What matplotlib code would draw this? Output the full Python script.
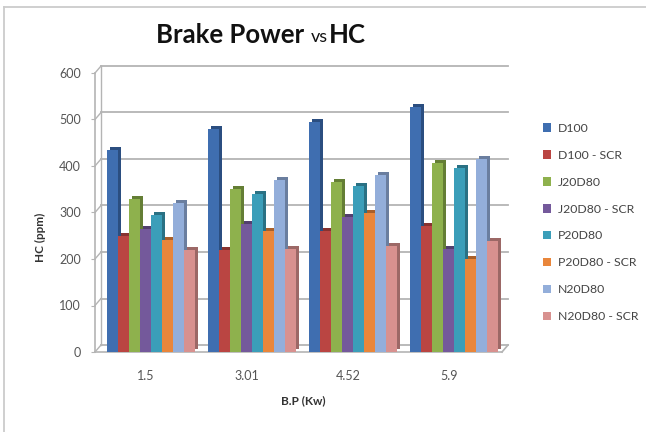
import matplotlib
matplotlib.use("Agg")
import matplotlib.pyplot as plt
import matplotlib.transforms as mtransforms
from matplotlib.patches import Patch
import numpy as np

plt.rcParams['font.family'] = ['Lato', 'DejaVu Sans']

categories = ["1.5", "3.01", "4.52", "5.9"]
series_names = ["D100", "D100 - SCR", "J20D80", "J20D80 - SCR",
                "P20D80", "P20D80 - SCR", "N20D80", "N20D80 - SCR"]
d100 = [435, 480, 495, 527]
d100_scr = [250, 220, 260, 270]
j20d80 = [330, 350, 366, 407]
j20d80_scr = [265, 276, 290, 221]
p20d80 = [295, 340, 356, 395]
p20d80_scr = [240, 260, 299, 199]
n20d80 = [320, 370, 381, 414]
n20d80_scr = [220, 221, 228, 239]
yticks = [0, 100, 200, 300, 400, 500, 600]

series = [d100, d100_scr, j20d80, j20d80_scr, p20d80, p20d80_scr, n20d80, n20d80_scr]
colors = ['#3F6EB0', '#BA4542', '#8EB14D', '#74599B',
          '#3B9EB9', '#E9863B', '#93AEDA', '#D8918F']
side_colors = ['#2B4E80', '#873230', '#647E35', '#523F6E',
               '#2A7184', '#A85F2A', '#6A7E9F', '#9C6866']

W, H, DPI = 6.46, 4.32, 100
fig = plt.figure(figsize=(W, H), dpi=DPI)
fig.patch.set_facecolor('white')

# outer chart frame
fig.add_artist(plt.Line2D([4/646, 4/646], [0, 1 - 7/432], color='#CCCCCC', lw=1.3))
fig.add_artist(plt.Line2D([4/646, 1], [1 - 7/432, 1 - 7/432], color='#CCCCCC', lw=1.3))

left, right, bottom, top = 95, 502, 352, 73
ax = fig.add_axes([left/646, 1 - bottom/432, (right-left)/646, (bottom-top)/432])
ax.set_xlim(-0.555, 3.475)
ax.set_ylim(0, 600)
for s in ax.spines.values():
    s.set_visible(False)
ax.patch.set_alpha(0)

dx, dy = 6, 7  # depth offset in pixels
back = mtransforms.offset_copy(ax.transData, fig=fig, x=dx, y=dy, units='dots')
gridc = '#B4B4B4'
xmin, xmax = ax.get_xlim()
inv = ax.transData.inverted()
for yv in yticks:
    ax.plot([xmin, xmax], [yv, yv], transform=back, color=gridc, lw=1.3, zorder=0, clip_on=False)
    a = inv.transform(ax.transData.transform((xmin, yv)))
    b = inv.transform(back.transform((xmin, yv)))
    ax.plot([a[0], b[0]], [a[1], b[1]], color=gridc, lw=1.0, zorder=0, clip_on=False)
ax.plot([xmin, xmin], [0, 600], transform=back, color=gridc, lw=1.0, zorder=0, clip_on=False)
ax.plot([xmin, xmin], [0, 600], color=gridc, lw=1.2, zorder=0, clip_on=False)
ax.plot([xmin, xmax], [0, 0], color=gridc, lw=1.2, zorder=1, clip_on=False)
a = inv.transform(ax.transData.transform((xmax, 0)))
b = inv.transform(back.transform((xmax, 0)))
ax.plot([a[0], b[0]], [a[1], b[1]], color=gridc, lw=1.2, zorder=1, clip_on=False)

n = len(series)
bw = 0.109
x = np.arange(len(categories))
side = mtransforms.offset_copy(ax.transData, fig=fig, x=3, y=3, units='dots')
for i, (vals, c, sc) in enumerate(zip(series, colors, side_colors)):
    xs = x - n*bw/2 + bw/2 + i*bw
    ax.bar(xs, vals, bw, color=sc, edgecolor='none', transform=side, zorder=2)
    ax.bar(xs, vals, bw, color=c, edgecolor='none', zorder=3, label=series_names[i])

ax.set_yticks(yticks)
ax.set_yticklabels([str(v) for v in yticks])
ax.tick_params(axis='y', length=3, color=gridc, pad=7, labelsize=9, labelcolor='#555555')
ax.set_xticks(x)
ax.set_xticklabels(categories)
ax.tick_params(axis='x', length=0, pad=13, labelsize=9, labelcolor='#555555')
for lab in ax.get_xticklabels():
    lab.set_transform(lab.get_transform() + mtransforms.ScaledTranslation(-5/DPI, 0, fig.dpi_scale_trans))

fig.text(40/646, 1 - 237/432, "HC (ppm)", rotation=90, ha='center', va='center',
         fontsize=8.5, fontweight='bold', color='#333333')
fig.text(303/646, 1 - 401/432, "B.P (Kw)", ha='center', va='center',
         fontsize=8.5, fontweight='bold', color='#333333')

# title
ty = 1 - 35/432
fig.text(156/646, ty, "Brake Power", ha='left', va='center', fontsize=18.5,
         fontweight='bold', color='#111111')
fig.text(311/646, ty - 2/432, "vs", ha='left', va='center', fontsize=13, color='#111111')
fig.text(329/646, ty, "HC", ha='left', va='center', fontsize=18.5,
         fontweight='bold', color='#111111')

handles = [Patch(facecolor=c, edgecolor='none') for c in colors]
fig.legend(handles, series_names, loc='upper left', bbox_to_anchor=(538/646, 1 - 118/432),
           frameon=False, fontsize=8.8, handlelength=0.7, handleheight=0.7,
           handletextpad=0.5, labelspacing=1.3, labelcolor='#444444', borderaxespad=0)

fig.savefig("out.png", dpi=DPI)
